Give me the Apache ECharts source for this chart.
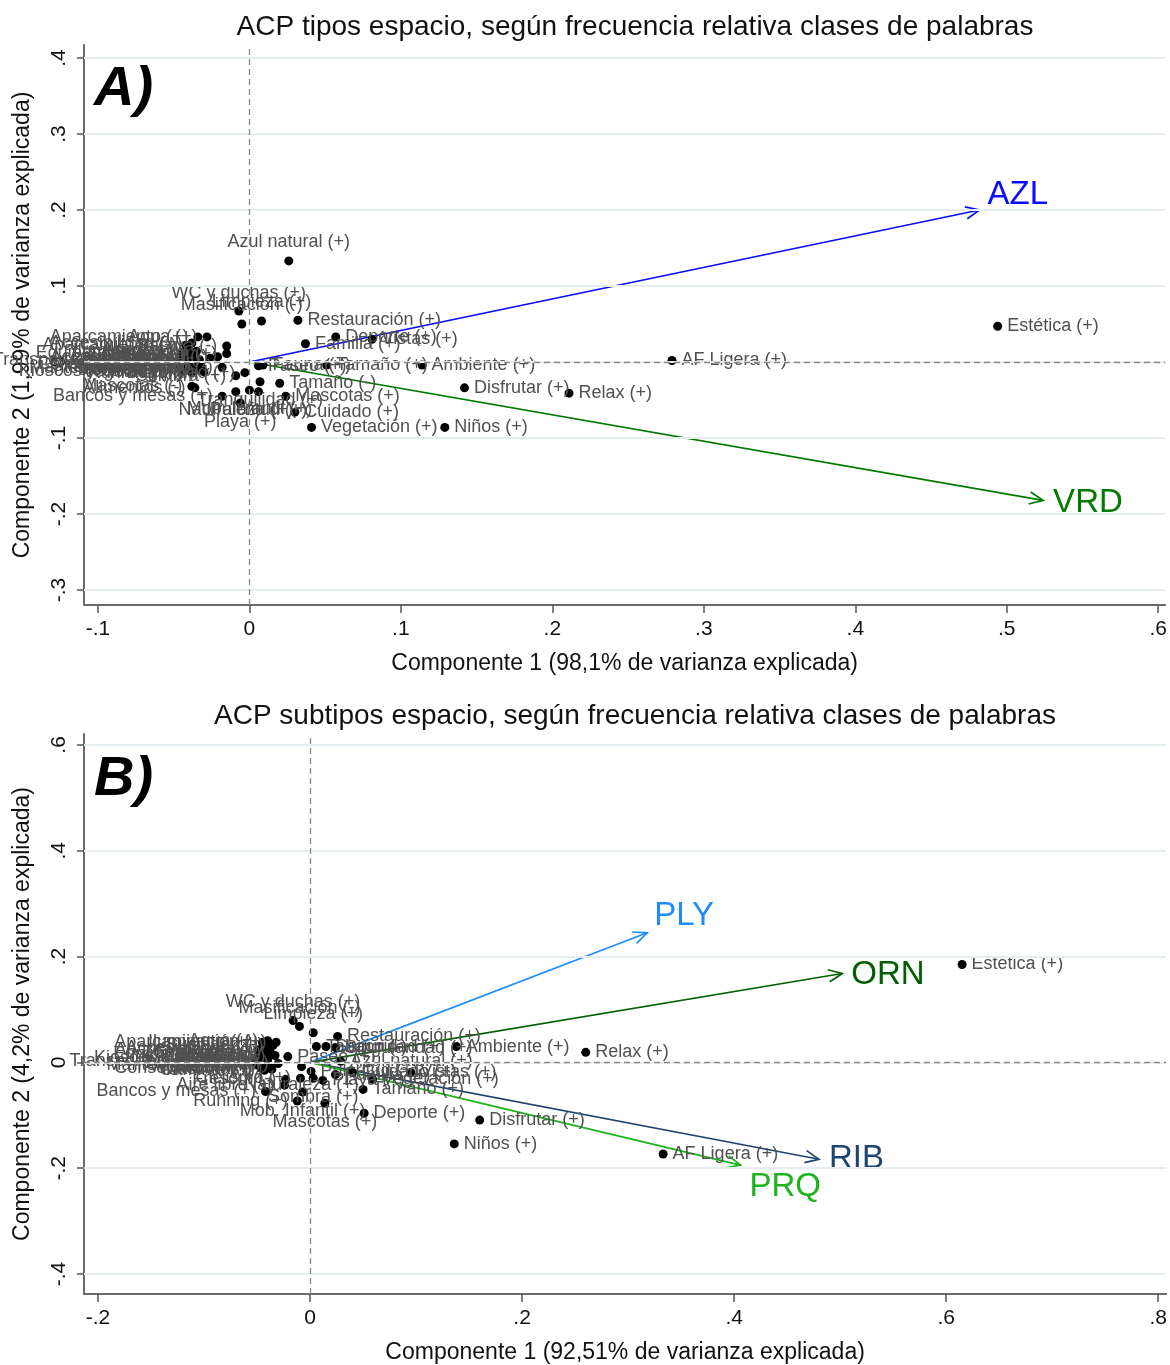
<!DOCTYPE html>
<html>
<head>
<meta charset="utf-8">
<script src="https://cdn.jsdelivr.net/npm/echarts@6/dist/echarts.min.js"></script>
<style>
  html, body { margin: 0; padding: 0; background: #fff; }
  #chart { width: 1170px; height: 1365px; }
</style>
</head>
<body>
<div id="chart"></div>
<script>
// ---------- Panel A: tipos de espacio ----------
var namesA = [
  'Estética (+)', 'AF Ligera (+)', 'Relax (+)', 'Disfrutar (+)', 'Niños (+)', 'Vegetación (+)',
  'Ambiente (+)', 'Tamaño (+)', 'Fauna (+)', 'Tamaño (-)', 'Mascotas (+)', 'Cuidado (+)',
  'Vistas (+)', 'Deporte (+)', 'Familia (+)', 'Restauración (+)', 'Azul natural (+)',
  'WC y duchas (+)', 'Masificación (-)', 'Limpieza (+)', 'Naturaleza (+)', 'Mob. Infantil (+)',
  'Pulcritud (+)', 'Playa (+)', 'Sombra (+)', 'Seguridad (+)', 'Paseo (+)', 'Tranquilidad (+)',
  'Ruido (-)', 'Aparcamiento (+)', 'Aparcamiento (-)', 'Agua (+)', 'Accesibilidad (+)',
  'Basura (-)', 'Aseos (+)', 'Vegetación (-)', 'Sombra (-)', 'Alimentos (-)', 'Mascotas (-)',
  'Bancos y mesas (+)', 'Silencio (+)', 'Olor (-)', 'Suciedad (-)', 'Iluminación (+)',
  'Aire libre (+)', 'Frescor (-)', 'Running (+)', 'Ciclismo (+)', 'Caminar (+)',
  'Zona verde (+)', 'Tabaco (-)', 'Singularidad (+)',
  'Equipamiento (+)', 'Mantenimiento (-)', 'Accesibilidad (-)', 'Conservación (+)',
  'Transporte público (+)', 'Servicios (+)', 'Kioscos y bares (+)', 'Iluminación (-)',
  'Seguridad (-)', 'Diversión (+)'
];
var pc1A = [
  0.494, 0.279, 0.211, 0.142, 0.129, 0.041,
  0.114, 0.051, 0.009, 0.020, 0.024, 0.030,
  0.081, 0.057, 0.037, 0.032, 0.026,
  -0.007, -0.005, 0.008, -0.009, 0.000,
  0.006, -0.006, -0.009, -0.003, 0.006, 0.007,
  -0.018, -0.034, -0.042, -0.028, -0.038,
  -0.015, -0.040, -0.030, -0.043, -0.036, -0.038,
  -0.018, -0.042, -0.046, -0.036, -0.032,
  -0.040, -0.036, -0.038, -0.036, -0.045,
  -0.033, -0.026, -0.040,
  -0.044, -0.046, -0.041, -0.043,
  -0.047, -0.039, -0.044, -0.035,
  -0.021, -0.015
];
var pc2A = [
  0.047, 0.002, -0.041, -0.034, -0.086, -0.086,
  -0.004, -0.004, -0.004, -0.028, -0.045, -0.066,
  0.030, 0.033, 0.024, 0.055, 0.133,
  0.067, 0.050, 0.054, -0.039, -0.037,
  -0.039, -0.054, -0.018, -0.014, -0.005, -0.026,
  -0.007, 0.033, 0.022, 0.033, 0.025,
  0.021, 0.016, -0.013, 0.009, -0.034, -0.032,
  -0.045, 0.000, -0.001, -0.001, -0.005,
  0.004, 0.009, -0.014, -0.011, -0.005,
  0.003, 0.005, -0.005,
  0.012, -0.008, 0.006, -0.003,
  0.002, -0.009, -0.012, 0.014,
  0.007, 0.011
];
var varNamesA = ['AZL', 'VRD'];
var varPc1A = [0.482, 0.524];
var varPc2A = [0.200, -0.182];

// ---------- Panel B: subtipos de espacio ----------
var namesB = [
  'Estética (+)', 'AF Ligera (+)', 'Relax (+)', 'Ambiente (+)', 'Disfrutar (+)', 'Niños (+)',
  'Deporte (+)', 'Tamaño (+)', 'Vegetación (+)', 'Familia (+)', 'Vistas (+)', 'Azul natural (+)',
  'Cuidado (+)', 'Restauración (+)', 'Singularidad (+)', 'Seguridad (+)', 'Tabaco (-)',
  'WC y duchas (+)', 'Masificación (-)', 'Limpieza (+)', 'Agua (+)', 'Paseo (+)', 'Frescor (-)',
  'Aire libre (+)', 'Bancos y mesas (+)', 'Running (+)', 'Mob. Infantil (+)', 'Mascotas (+)',
  'Naturaleza (+)', 'Ciclismo (+)', 'Pulcritud (+)', 'Sombra (+)', 'Playa (+)',
  'Aparcamiento (+)', 'Accesibilidad (+)', 'Aparcamiento (-)', 'Arena (+)', 'Aseos (+)',
  'Basura (-)', 'Vegetación (-)', 'Sombra (-)', 'Mascotas (-)', 'Alimentos (-)', 'Silencio (+)',
  'Olor (-)', 'Suciedad (-)', 'Iluminación (+)', 'Caminar (+)', 'Zona verde (+)',
  'Tranquilidad (+)', 'Ruido (-)',
  'Equipamiento (+)', 'Mantenimiento (-)', 'Transporte público (+)', 'Conservación (+)',
  'Servicios (+)', 'Kioscos y bares (+)'
];
var pc1B = [
  0.615, 0.333, 0.260, 0.138, 0.160, 0.136,
  0.051, 0.050, 0.059, 0.024, 0.095, 0.029,
  0.040, 0.026, 0.024, 0.015, 0.006,
  -0.016, -0.010, 0.003, -0.040, -0.021, -0.023,
  -0.024, -0.042, -0.012, -0.007, 0.014,
  -0.008, -0.009, 0.001, 0.003, 0.012,
  -0.045, -0.040, -0.049, -0.044, -0.048,
  -0.041, -0.038, -0.045, -0.036, -0.050, -0.033,
  -0.040, -0.035, -0.032, -0.043, -0.037,
  -0.030, -0.041,
  -0.047, -0.050, -0.052, -0.046,
  -0.044, -0.049
];
var pc2B = [
  0.185, -0.173, 0.019, 0.030, -0.109, -0.154,
  -0.096, -0.051, -0.032, -0.023, -0.019, 0.002,
  -0.019, 0.049, 0.028, 0.030, 0.030,
  0.079, 0.068, 0.056, 0.041, 0.011, -0.032,
  -0.043, -0.055, -0.073, -0.056, -0.077,
  -0.008, -0.030, -0.017, -0.030, -0.034,
  0.038, 0.028, 0.024, 0.009, 0.004,
  0.000, -0.006, -0.009, -0.013, -0.002, 0.013,
  0.006, 0.032, 0.038, -0.015, 0.017,
  -0.002, 0.019,
  0.015, -0.005, 0.003, -0.011,
  0.020, 0.008
];
var varNamesB = ['PLY', 'ORN', 'RIB', 'PRQ'];
var varPc1B = [0.318, 0.502, 0.480, 0.406];
var varPc2B = [0.245, 0.168, -0.183, -0.194];

// tick values
var xTicksA = [-0.1, 0, 0.1, 0.2, 0.3, 0.4, 0.5, 0.6];
var yTicksA = [-0.3, -0.2, -0.1, 0, 0.1, 0.2, 0.3, 0.4];
var xTicksB = [-0.2, 0, 0.2, 0.4, 0.6, 0.8];
var yTicksB = [-0.4, -0.2, 0, 0.2, 0.4, 0.6];

// ---------- styles (kept apart from the data) ----------
var FONT = '"Liberation Sans", Arial, sans-serif';
var varColor = {
  AZL: '#0a0aff', VRD: '#007a00',
  PLY: '#1e8cff', ORN: '#006000', RIB: '#1f456e', PRQ: '#1db31d'
};
var varLabelOffset = {
  AZL: [8, -15], VRD: [10, 3],
  PLY: [7, -17], ORN: [9, 1], RIB: [10, 0], PRQ: [9, 22]
};
// label placement for individual points (default: right if x>=0, left otherwise)
var placeA = {
  'Niños (+)': 'lr', 'Vegetación (+)': 'lr', 'Deporte (+)': 'ur', 'Restauración (+)': 'ur',
  'Azul natural (+)': 'top', 'WC y duchas (+)': 'top', 'Masificación (-)': 'top',
  'Limpieza (+)': 'top', 'Naturaleza (+)': 'bottom', 'Mob. Infantil (+)': 'bottom',
  'Pulcritud (+)': 'bottom', 'Playa (+)': 'bottom', 'Sombra (+)': 'll', 'Seguridad (+)': 'left',
  'Tranquilidad (+)': 'bottom', 'Aparcamiento (+)': 'ul', 'Agua (+)': 'ul',
  'Accesibilidad (+)': 'ul', 'Basura (-)': 'ul'
};
var placeB = {
  'AF Ligera (+)': 'lr', 'Disfrutar (+)': 'lr', 'Niños (+)': 'lr2', 'Deporte (+)': 'lr',
  'Tamaño (+)': 'lr', 'Vegetación (+)': 'lr', 'Familia (+)': 'lr',
  'Restauración (+)': 'ur', 'Singularidad (+)': 'ur', 'WC y duchas (+)': 'top',
  'Masificación (-)': 'top', 'Limpieza (+)': 'top', 'Agua (+)': 'ul', 'Paseo (+)': 'right',
  'Mob. Infantil (+)': 'bottom', 'Mascotas (+)': 'bottom', 'Naturaleza (+)': 'bottom',
  'Sombra (+)': 'bottom', 'Pulcritud (+)': 'lr', 'Playa (+)': 'lr', 'Ciclismo (+)': 'left',
  'Running (+)': 'left', 'Suciedad (-)': 'ul'
};

function labelFor(place, x) {
  var p = place || (x >= 0 ? 'right' : 'left');
  var map = {
    right: ['right', [0, 0]], left: ['left', [0, 0]],
    top: ['top', [0, 2]], bottom: ['bottom', [0, -2]],
    ur: ['right', [0, -13]], lr: ['right', [0, 16]], lr2: ['right', [0, 20]],
    ul: ['left', [0, -12]], ll: ['left', [0, 12]]
  };
  return { position: map[p][0], offset: map[p][1] };
}

function buildPoints(names, xs, ys, place) {
  return names.map(function (n, i) {
    return { name: n, value: [xs[i], ys[i]], label: labelFor(place[n], xs[i]) };
  });
}

function buildVars(xs, ys) {
  return xs.map(function (x, i) { return [x, ys[i], i]; });
}

function fmt(v) {
  if (Math.abs(v) < 1e-9) return '0';
  var s = String(Math.round(Math.abs(v) * 10) / 10).replace(/^0/, '');
  return (v < 0 ? '-' : '') + s;
}

function makeArrowRender(names) {
  return function (params, api) {
    var o = api.coord([0, 0]);
    var p = api.coord([api.value(0), api.value(1)]);
    var name = names[api.value(2)];
    var c = varColor[name];
    var off = varLabelOffset[name];
    var ang = Math.atan2(p[1] - o[1], p[0] - o[0]);
    var L = 15, a = 0.42;
    var h1 = [p[0] - L * Math.cos(ang - a), p[1] - L * Math.sin(ang - a)];
    var h2 = [p[0] - L * Math.cos(ang + a), p[1] - L * Math.sin(ang + a)];
    return {
      type: 'group',
      children: [
        { type: 'line', shape: { x1: o[0], y1: o[1], x2: p[0], y2: p[1] },
          style: { stroke: c, lineWidth: 1.7 } },
        { type: 'polyline', shape: { points: [h1, p, h2] },
          style: { stroke: c, lineWidth: 1.7, fill: null } },
        { type: 'text', x: p[0] + off[0], y: p[1] + off[1],
          style: { text: name, fill: c, font: '33px ' + FONT, align: 'left', verticalAlign: 'middle' } }
      ]
    };
  };
}

function xAxisCfg(idx, min, max, ticks, title) {
  return {
    type: 'value', gridIndex: idx, min: min, max: max,
    name: title, nameLocation: 'middle', nameGap: 47,
    nameTextStyle: { fontFamily: FONT, fontSize: 23, color: '#111' },
    axisLine: { show: true, onZero: false, lineStyle: { color: '#6b6b6b', width: 2 } },
    axisTick: { show: true, customValues: ticks, length: 8, lineStyle: { color: '#555', width: 1.5 } },
    axisLabel: { customValues: ticks, formatter: fmt, margin: 14, fontFamily: FONT, fontSize: 21, color: '#111' },
    splitLine: { show: false }
  };
}

function yAxisCfg(idx, min, max, ticks, title) {
  return {
    type: 'value', gridIndex: idx, min: min, max: max,
    name: title, nameLocation: 'middle', nameGap: 50, nameRotate: 90,
    nameTextStyle: { fontFamily: FONT, fontSize: 23, color: '#111' },
    axisLine: { show: true, onZero: false, lineStyle: { color: '#6b6b6b', width: 2 } },
    axisTick: { show: true, customValues: ticks, length: 7, lineStyle: { color: '#555', width: 1.5 } },
    axisLabel: { customValues: ticks, formatter: fmt, rotate: 90, margin: 14, fontFamily: FONT, fontSize: 21, color: '#111' },
    splitLine: { show: false }
  };
}

function gridLines(idx, ticks) {
  return {
    type: 'line', xAxisIndex: idx, yAxisIndex: idx, data: [], silent: true, z: 1,
    markLine: {
      silent: true, symbol: 'none', label: { show: false }, animation: false,
      lineStyle: { color: '#e6eef2', width: 2, type: 'solid' },
      data: ticks.map(function (t) { return { yAxis: t }; })
    }
  };
}

function zeroLines(idx) {
  return {
    type: 'line', xAxisIndex: idx, yAxisIndex: idx, data: [], silent: true, z: 2,
    markLine: {
      silent: true, symbol: 'none', label: { show: false }, animation: false,
      lineStyle: { color: '#8a8a8a', width: 1.3, type: [6, 4] },
      data: [{ xAxis: 0 }, { yAxis: 0 }]
    }
  };
}

function pointSeries(idx, data) {
  return {
    type: 'scatter', xAxisIndex: idx, yAxisIndex: idx, z: 4,
    symbol: 'circle', symbolSize: 9,
    itemStyle: { color: '#000', opacity: 1 },
    label: {
      show: true, formatter: '{b}', distance: 5,
      fontFamily: FONT, fontSize: 18, color: '#505050'
    },
    labelLayout: { hideOverlap: false },
    data: data
  };
}

function arrowSeries(idx, names, data) {
  return {
    type: 'custom', xAxisIndex: idx, yAxisIndex: idx, z: 3,
    renderItem: makeArrowRender(names), data: data, silent: true,
    encode: { x: 0, y: 1 }
  };
}

var chart = echarts.init(document.getElementById('chart'), null, { renderer: 'canvas' });
chart.setOption({
  animation: false,
  backgroundColor: '#fff',
  title: [
    { text: 'ACP tipos espacio, según frecuencia relativa clases de palabras',
      left: 630, top: 8, textAlign: 'center',
      textStyle: { fontFamily: FONT, fontSize: 28, fontWeight: 'normal', color: '#111' } },
    { text: 'ACP subtipos espacio, según frecuencia relativa clases de palabras',
      left: 630, top: 697, textAlign: 'center',
      textStyle: { fontFamily: FONT, fontSize: 28, fontWeight: 'normal', color: '#111' } }
  ],
  graphic: [
    { type: 'text', left: 94, top: 62, z: 10,
      style: { text: 'A)', font: 'italic bold 56px ' + FONT, fill: '#000',
        shadowColor: 'rgba(0,0,0,0.35)', shadowBlur: 3, shadowOffsetX: 3, shadowOffsetY: 3 } },
    { type: 'text', left: 94, top: 752, z: 10,
      style: { text: 'B)', font: 'italic bold 56px ' + FONT, fill: '#000',
        shadowColor: 'rgba(0,0,0,0.35)', shadowBlur: 3, shadowOffsetX: 3, shadowOffsetY: 3 } }
  ],
  grid: [
    { left: 84, top: 45, width: 1084, height: 560 },
    { left: 84, top: 734, width: 1084, height: 561 }
  ],
  xAxis: [
    xAxisCfg(0, -0.1092, 0.6046, xTicksA, 'Componente 1 (98,1% de varianza explicada)'),
    xAxisCfg(1, -0.2132, 0.8075, xTicksB, 'Componente 1 (92,51% de varianza explicada)')
  ],
  yAxis: [
    yAxisCfg(0, -0.3197, 0.4171, yTicksA, 'Componente 2 (1,99% de varianza explicada)'),
    yAxisCfg(1, -0.4377, 0.6207, yTicksB, 'Componente 2 (4,2% de varianza explicada)')
  ],
  series: [
    gridLines(0, yTicksA), zeroLines(0),
    arrowSeries(0, varNamesA, buildVars(varPc1A, varPc2A)),
    pointSeries(0, buildPoints(namesA, pc1A, pc2A, placeA)),
    gridLines(1, yTicksB), zeroLines(1),
    arrowSeries(1, varNamesB, buildVars(varPc1B, varPc2B)),
    pointSeries(1, buildPoints(namesB, pc1B, pc2B, placeB))
  ]
});
window.addEventListener('resize', function () { chart.resize(); });
</script>
</body>
</html>
